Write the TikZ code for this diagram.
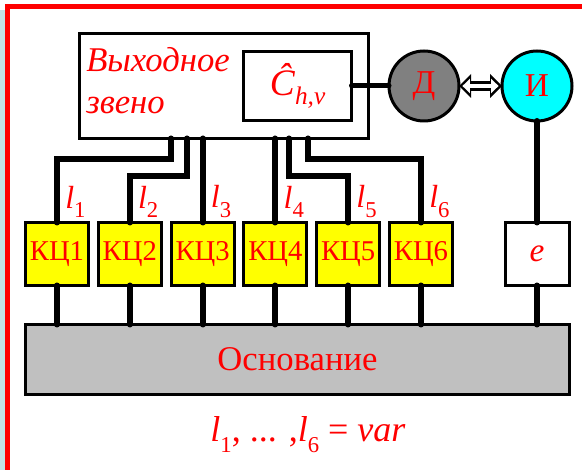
\documentclass[tikz,border=0pt]{standalone}
\usepackage{fontspec}
\setmainfont{Liberation Serif}
\usetikzlibrary{arrows.meta, positioning}

\definecolor{sidebar}{HTML}{C3E2E6}
\definecolor{chainfill}{RGB}{255,255,0}
\definecolor{aqua}{RGB}{0,255,255}
\definecolor{drivefill}{RGB}{128,128,128}
\definecolor{basefill}{RGB}{192,192,192}
\definecolor{txt}{RGB}{255,0,0}
\newcommand{\withsub}[2]{\textit{#1}\raisebox{-0.3em}{\fontsize{17}{17}\selectfont #2}}

\begin{document}
\begin{tikzpicture}[x=0.75pt, y=-0.75pt,
    node distance=7.35pt,
    block/.style={rectangle, draw, line width=2.25pt, inner sep=0pt, outer sep=0pt, text=txt},
    chain/.style={block, fill=chainfill, minimum width=47.25pt, minimum height=47.25pt, font=\fontsize{21.5}{24}\selectfont},
    joint/.style={circle, draw, line width=2.25pt, minimum size=52.5pt, inner sep=0pt, outer sep=0pt, text=txt, font=\fontsize{25}{28}\selectfont},
    wire/.style={line width=4.5pt, line cap=round, line join=miter},
    len/.style={text=txt, inner sep=0pt, font=\fontsize{24}{28}\selectfont},
    linkout/.style={line width=7.5pt, {Triangle[length=9pt, width=18pt, line width=0pt]}-{Triangle[length=9pt, width=18pt, line width=0pt]}},
    linkin/.style={white, line width=3pt, shorten <=2.6pt, shorten >=2.6pt, {Triangle[length=5.6pt, width=11pt, line width=0pt]}-{Triangle[length=5.6pt, width=11pt, line width=0pt]}}
  ]
  \useasboundingbox (0,0) rectangle (582,470);
  \fill [sidebar] (0,10) rectangle (5,470);
  \draw [red, line width=3.75pt] (582,6.5) -- (7.5,6.5) -- (7.5,470);

  \node [block, minimum width=216.75pt, minimum height=78.75pt] (out) at (224,86) {};
  \node [anchor=north west, inner sep=0pt, text=txt, align=left, font=\fontsize{26}{31.5}\selectfont\itshape] (outname) at (86,47) {Выходное\\звено};
  \node [block, minimum width=81pt, minimum height=51.75pt, font=\fontsize{28}{30}\selectfont] (est) at (297.5,86) {\textit{Ĉ}\raisebox{-0.25em}{\fontsize{19}{19}\selectfont\itshape h,v}};
  \node [joint, fill=drivefill] (drive) at (424,86) {Д};
  \node [joint, fill=aqua] (meas) at (537,86) {И};

  \node [chain] (kc1) at (57,254) {КЦ1};
  \node [chain, right=of kc1] (kc2) {КЦ2};
  \node [chain, right=of kc2] (kc3) {КЦ3};
  \node [chain, right=of kc3] (kc4) {КЦ4};
  \node [chain, right=of kc4] (kc5) {КЦ5};
  \node [chain, right=of kc5] (kc6) {КЦ6};
  \node [block, minimum width=48pt, minimum height=47.25pt, font=\fontsize{25}{28}\selectfont\itshape] (err) at (537,254) {e};
  \node [block, fill=basefill, minimum width=408pt, minimum height=52.5pt, font=\fontsize{26}{30}\selectfont] (base) at (297.5,359.5) {Основание};
  \node [len, font=\fontsize{27}{30}\selectfont] (cond) at (308,435) {\withsub{l}{1}, ... ,\withsub{l}{6} = \textit{var}};

  \foreach \i in {1,...,6}
    \node [len, above right=3.4pt and 6pt of kc\i.north] (l\i) {\withsub{l}{\i}};

  % taps on the bottom of the output link
  \coordinate (t1) at (171,138.5);
  \coordinate (t2) at (187,138.5);
  \coordinate (t5) at (289,138.5);
  \coordinate (t6) at (308,138.5);

  \draw [wire] (kc1.north) -- ++(0,-63.5) -| (t1);
  \draw [wire] (kc2.north) -- ++(0,-46.5) -| (t2);
  \draw [wire] (kc3.north) -- (kc3.north |- out.south);
  \draw [wire] (kc4.north) -- (kc4.north |- out.south);
  \draw [wire] (kc5.north) -- ++(0,-46.5) -| (t5);
  \draw [wire] (kc6.north) -- ++(0,-63.5) -| (t6);

  \foreach \i in {1,...,6}
    \draw [wire] (kc\i.south) -- (kc\i.south |- base.north);
  \draw [wire] (err.south) -- (err.south |- base.north);
  \draw [wire] (meas.south) -- (err.north);
  \draw [wire, line width=3.75pt] (est.east) -- (drive.west);
  \draw [linkout] (drive.east) -- (meas.west);
  \draw [linkin] (drive.east) -- (meas.west);
\end{tikzpicture}
\end{document}
